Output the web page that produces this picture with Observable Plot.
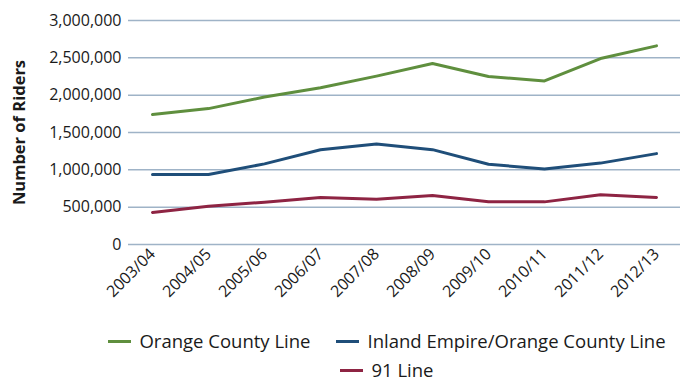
<!DOCTYPE html>
<html>
<head>
<meta charset="utf-8">
<script src="https://cdn.jsdelivr.net/npm/d3@7"></script>
<script src="https://cdn.jsdelivr.net/npm/@observablehq/plot@0.6"></script>
<style>
  html, body { margin: 0; padding: 0; background: #fff; }
  body { width: 680px; height: 381px; overflow: hidden; font-family: "Open Sans", sans-serif; color: #1a1a1a; }
  #chart svg { display: block; }
  #chart svg [aria-label="y-axis label"] text { font-weight: bold; font-size: 16.5px; }
  .legend { width: 680px; box-sizing: border-box; padding-left: 94px; margin-top: 9px; font-size: 18.5px; line-height: 1.2; }
  .row { display: flex; justify-content: center; height: 29px; align-items: center; }
  .item { display: flex; align-items: center; margin: 0 13px; white-space: nowrap; }
  .sw { width: 23px; height: 3px; margin-right: 8px; }
</style>
</head>
<body>
<div id="chart"></div>
<div class="legend" id="legend"></div>
<script>
const years = ["2003/04","2004/05","2005/06","2006/07","2007/08","2008/09","2009/10","2010/11","2011/12","2012/13"];
const seriesNames = ["Orange County Line", "Inland Empire/Orange County Line", "91 Line"];
const seriesColors = ["#5f8f3e", "#1f4e79", "#8e2443"];
const orangeCounty = [1740000, 1820000, 1975000, 2100000, 2255000, 2425000, 2250000, 2190000, 2490000, 2660000];
const inlandEmpire = [937000, 937000, 1080000, 1270000, 1345000, 1270000, 1075000, 1010000, 1090000, 1217000];
const line91 = [430000, 512000, 567000, 630000, 605000, 657000, 571000, 571000, 667000, 629000];
const yTicks = [0, 500000, 1000000, 1500000, 2000000, 2500000, 3000000];

const allValues = [orangeCounty, inlandEmpire, line91];
const data = [];
seriesNames.forEach((name, i) => {
  years.forEach((yr, j) => data.push({series: name, year: yr, riders: allValues[i][j]}));
});

const gridColor = "#9fb3c7";

const chart = Plot.plot({
  width: 680,
  height: 318,
  marginLeft: 128,
  marginRight: 0,
  marginTop: 20,
  marginBottom: 74,
  style: {fontFamily: "'Open Sans', sans-serif", fontSize: "16px", color: "#1a1a1a", background: "#fff"},
  x: {type: "point", domain: years, padding: 0, insetLeft: 20, insetRight: 20},
  y: {domain: [0, 3000000]},
  color: {domain: seriesNames, range: seriesColors},
  marks: [
    Plot.gridY(yTicks, {stroke: gridColor, strokeOpacity: 1, strokeWidth: 1.5}),
    Plot.axisY(yTicks, {tickSize: 0, tickPadding: 7, tickFormat: d3.format(","), fontSize: 16,
      label: "Number of Riders", labelAnchor: "center", labelArrow: "none", labelOffset: 115}),
    Plot.axisX({tickSize: 0, tickRotate: -45, tickPadding: 7, fontSize: 16, label: null}),
    Plot.lineY(data, {x: "year", y: "riders", z: "series", stroke: "series", strokeWidth: 3})
  ]
});
document.getElementById("chart").appendChild(chart);

const legend = document.getElementById("legend");
const rows = [[0, 1], [2]];
rows.forEach(r => {
  const row = document.createElement("div");
  row.className = "row";
  r.forEach(i => {
    const item = document.createElement("div");
    item.className = "item";
    const sw = document.createElement("span");
    sw.className = "sw";
    sw.style.background = seriesColors[i];
    const t = document.createElement("span");
    t.textContent = seriesNames[i];
    item.appendChild(sw);
    item.appendChild(t);
    row.appendChild(item);
  });
  legend.appendChild(row);
});
</script>
</body>
</html>
